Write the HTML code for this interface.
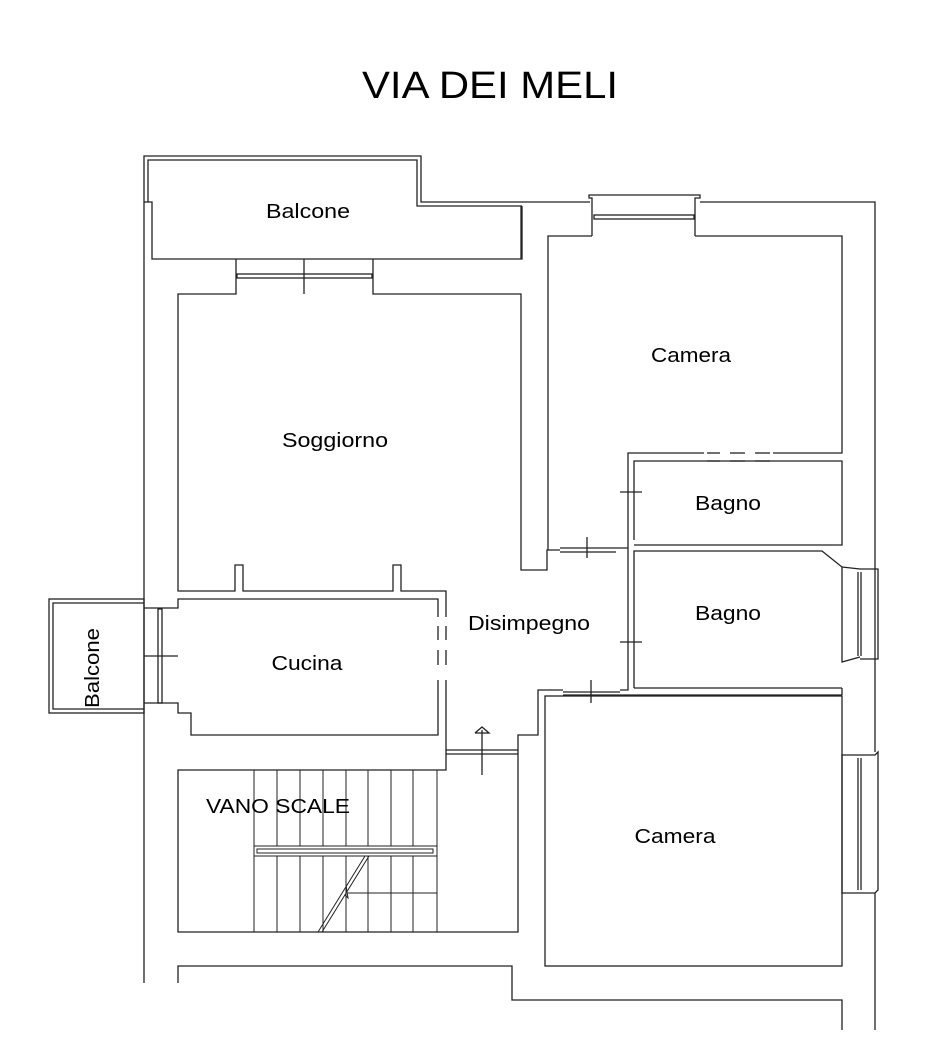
<!DOCTYPE html>
<html><head><meta charset="utf-8"><style>
html,body{margin:0;padding:0;background:#fff;width:950px;height:1058px;overflow:hidden}
svg{display:block}
text{font-family:"Liberation Sans",Arial,sans-serif;fill:#000}
</style></head><body>
<svg width="950" height="1058" viewBox="0 0 950 1058" xmlns="http://www.w3.org/2000/svg">
<g fill="none" stroke="#222" stroke-width="1.3">
<!-- top balcony -->
<polyline points="144,983 144,156 421,156 421,202 590,202"/>
<polyline points="148,202 148,160 417,160 417,206 522,206"/>
<polyline points="144,202 152,202 152,259 522,259 522,206"/>
<!-- soggiorno window -->
<polyline points="236,259 236,294 178,294 178,591 235,591 235,565 243,565 243,591 393,591 393,565 401,565 401,591 446,591 446,617"/>
<polyline points="373,259 373,294 521,294 521,570 547,570 547,550 560,550"/>
<rect x="237" y="274" width="135" height="4"/>
<line x1="304" y1="259" x2="304" y2="294"/>
<line x1="521" y1="206" x2="521" y2="259"/>
<!-- camera top -->
<polyline points="700,202 875,202 875,752"/>
<polyline points="592,236 592,198 589,198 589,195 700,195 700,198 695,198 695,236"/>
<rect x="594" y="215" width="100" height="4"/>
<polyline points="592,236 548,236 548,550"/>
<polyline points="695,236 842,236 842,453 773,453"/>
<!-- bagno 1 -->
<polyline points="704,453 628,453 628,690 620,690"/>
<polyline points="634,540 634,461 842,461 842,545 634,545"/>
<line x1="707" y1="453" x2="720" y2="453"/><line x1="730" y1="453" x2="745" y2="453"/><line x1="755" y1="453" x2="770" y2="453"/>
<line x1="707" y1="461" x2="720" y2="461"/><line x1="730" y1="461" x2="745" y2="461"/><line x1="755" y1="461" x2="770" y2="461"/>
<line x1="620" y1="492" x2="642" y2="492"/>
<line x1="628" y1="548" x2="560" y2="548"/>
<line x1="560" y1="552" x2="616" y2="552"/>
<line x1="587" y1="537" x2="587" y2="558"/>
<!-- bagno 2 -->
<polyline points="634,688 634,551 822,551 842,567 842,662 860,657"/>
<polyline points="842,567 860,569 878,569 878,659 860,659"/>
<line x1="858" y1="572" x2="858" y2="656"/><line x1="861" y1="572" x2="861" y2="656"/>
<line x1="634" y1="688" x2="842" y2="688"/>
<line x1="620" y1="642" x2="642" y2="642"/>
<!-- camera 2 -->
<polyline points="620,695 842,695"/>
<rect x="545" y="696" width="297" height="270"/>
<polyline points="563,690 538,690 538,735 518,735 518,932 178,932 178,770 446,770 446,680"/>
<line x1="563" y1="692" x2="620" y2="692"/><line x1="563" y1="695" x2="620" y2="695"/>
<line x1="591" y1="680" x2="591" y2="703"/>
<polyline points="875,1030 875,893 842,893 842,755 875,755 878,752 878,890 875,893"/>
<line x1="858" y1="758" x2="858" y2="890"/><line x1="861" y1="758" x2="861" y2="890"/>
<line x1="842" y1="688" x2="842" y2="695"/>
<!-- bottom -->
<polyline points="178,983 178,966 512,966 512,1000 842,1000 842,1030"/>
<!-- cucina -->
<polyline points="438,617 438,599 178,599 178,608 144,608"/>
<polyline points="144,703 178,703 178,713 191,713 191,735 438,735 438,680"/>
<line x1="438" y1="626" x2="438" y2="640"/><line x1="438" y1="650" x2="438" y2="665"/>
<line x1="446" y1="626" x2="446" y2="640"/><line x1="446" y1="650" x2="446" y2="665"/>
<rect x="158" y="609" width="4" height="94"/>
<line x1="144" y1="656" x2="178" y2="656"/>
<!-- small balcony -->
<rect x="49" y="599" width="95" height="114"/>
<polyline points="144,603 53,603 53,709 144,709"/>
<!-- door to stairs -->
<line x1="446" y1="750" x2="518" y2="750"/><line x1="446" y1="754" x2="518" y2="754"/>
<line x1="482" y1="730" x2="482" y2="775"/>
<polyline points="475,733 482,727 489,733 475,733"/>
<!-- stairs -->
<g stroke-width="1">
<line x1="254" y1="770" x2="254" y2="932"/><line x1="277" y1="770" x2="277" y2="932"/>
<line x1="300" y1="770" x2="300" y2="932"/><line x1="323" y1="770" x2="323" y2="932"/>
<line x1="346" y1="770" x2="346" y2="932"/><line x1="368" y1="770" x2="368" y2="932"/>
<line x1="391" y1="770" x2="391" y2="932"/><line x1="413" y1="770" x2="413" y2="932"/>
<line x1="437" y1="770" x2="437" y2="932"/>
<line x1="348" y1="893" x2="437" y2="893"/>
<rect x="254" y="846" width="183" height="10" fill="#fff"/>
<rect x="257" y="849" width="176" height="4"/>
<line x1="318" y1="932" x2="365" y2="856"/><line x1="322" y1="932" x2="369" y2="856"/>
<polyline points="346,885 348,898 345,895"/>
</g>
</g>
<text x="490" y="98" font-size="38" text-anchor="middle" textLength="256" lengthAdjust="spacingAndGlyphs">VIA DEI MELI</text>
<text x="308" y="218" font-size="20" text-anchor="middle" textLength="84" lengthAdjust="spacingAndGlyphs">Balcone</text>
<text x="335" y="447" font-size="20" text-anchor="middle" textLength="106" lengthAdjust="spacingAndGlyphs">Soggiorno</text>
<text x="691" y="362" font-size="20" text-anchor="middle" textLength="80" lengthAdjust="spacingAndGlyphs">Camera</text>
<text x="728" y="510" font-size="20" text-anchor="middle" textLength="66" lengthAdjust="spacingAndGlyphs">Bagno</text>
<text x="728" y="620" font-size="20" text-anchor="middle" textLength="66" lengthAdjust="spacingAndGlyphs">Bagno</text>
<text x="529" y="630" font-size="20" text-anchor="middle" textLength="122" lengthAdjust="spacingAndGlyphs">Disimpegno</text>
<text x="307" y="670" font-size="20" text-anchor="middle" textLength="71" lengthAdjust="spacingAndGlyphs">Cucina</text>
<text x="278" y="813" font-size="20" text-anchor="middle" textLength="144" lengthAdjust="spacingAndGlyphs">VANO SCALE</text>
<text x="675" y="843" font-size="20" text-anchor="middle" textLength="81" lengthAdjust="spacingAndGlyphs">Camera</text>
<text transform="translate(99,668) rotate(-90)" font-size="20" text-anchor="middle" textLength="80" lengthAdjust="spacingAndGlyphs">Balcone</text>
</svg>
</body></html>
